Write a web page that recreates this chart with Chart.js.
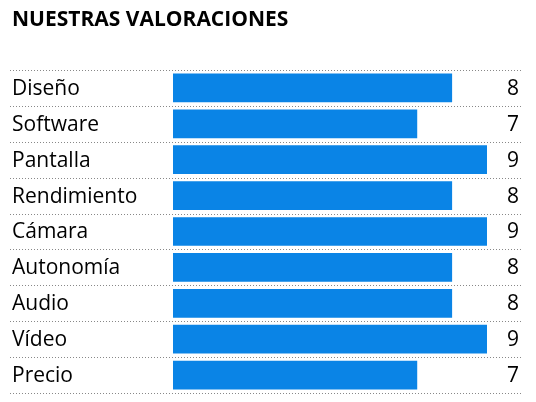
<!DOCTYPE html>
<html>
<head>
<meta charset="utf-8">
<script src="https://cdn.jsdelivr.net/npm/chart.js@4"></script>
<style>
  body { margin: 0; background: #fff; }
  #wrap { position: relative; width: 536px; height: 402px; }
  #title { position: absolute; left: 12px; top: 4px; font: bold 21px "Open Sans", sans-serif; color: #000; }
</style>
</head>
<body>
<div id="wrap">
  <div id="title">NUESTRAS VALORACIONES</div>
  <canvas id="chart" width="536" height="402"></canvas>
</div>
<script>
const categories = ['Diseño', 'Software', 'Pantalla', 'Rendimiento', 'Cámara', 'Autonomía', 'Audio', 'Vídeo', 'Precio'];
const scores = [8, 7, 9, 8, 9, 8, 8, 9, 7];

// labels on the left, values on the right, dotted row separators
const rowDecor = {
  id: 'rowDecor',
  afterDatasetsDraw(chart) {
    const ctx = chart.ctx;
    const y = chart.scales.y;
    const half = (y.getPixelForValue(1) - y.getPixelForValue(0)) / 2;
    ctx.save();
    ctx.strokeStyle = '#888';
    ctx.lineWidth = 1;
    ctx.setLineDash([1, 2]);
    for (let i = 0; i <= categories.length; i++) {
      const py = Math.round(y.getPixelForValue(i) - half) + 0.5;
      ctx.beginPath();
      ctx.moveTo(10, py);
      ctx.lineTo(522, py);
      ctx.stroke();
    }
    ctx.setLineDash([]);
    ctx.fillStyle = '#000';
    ctx.font = '21px "Open Sans", sans-serif';
    ctx.textBaseline = 'middle';
    categories.forEach((c, i) => {
      const py = y.getPixelForValue(i) + 1;
      ctx.textAlign = 'left';
      ctx.fillText(c, 12, py);
      ctx.textAlign = 'right';
      ctx.fillText(String(scores[i]), 519, py);
    });
    ctx.restore();
  }
};

new Chart(document.getElementById('chart'), {
  type: 'bar',
  data: {
    labels: categories,
    datasets: [{
      data: scores,
      backgroundColor: '#0A84E6',
      barPercentage: 0.8,
      categoryPercentage: 1
    }]
  },
  options: {
    indexAxis: 'y',
    responsive: false,
    animation: false,
    layout: { padding: { left: 173, right: 49, top: 70, bottom: 9 } },
    plugins: { legend: { display: false }, tooltip: { enabled: false } },
    scales: {
      x: { display: false, min: 0, max: 9 },
      y: { display: false }
    }
  },
  plugins: [rowDecor]
});
</script>
</body>
</html>
